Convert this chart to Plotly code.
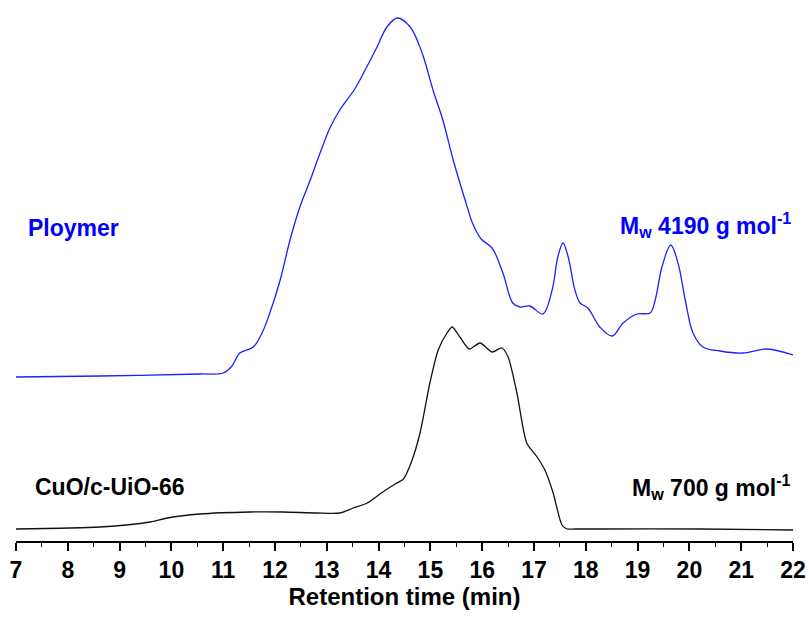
import plotly.graph_objects as go

# Retention time (min) and detector response (arbitrary units) for each trace
polymer_time = [7.00, 8.62, 10.55, 11.00, 11.17, 11.32, 11.58, 11.75, 11.90, 12.10,
                12.29, 12.48, 12.68, 12.87, 13.06, 13.25, 13.54, 13.74, 13.97, 14.16,
                14.36, 14.61, 14.84, 15.05, 15.24, 15.44, 15.67, 15.82, 15.98, 16.19,
                16.40, 16.59, 16.73, 16.92, 17.17, 17.35, 17.46, 17.56, 17.66, 17.79,
                17.89, 18.04, 18.27, 18.51, 18.72, 18.99, 19.24, 19.34, 19.47, 19.64,
                19.78, 19.92, 20.07, 20.26, 20.59, 21.03, 21.50, 22.00]
polymer_signal = [164, 165, 167, 168, 175, 188, 194, 208, 228, 261,
                  301, 334, 361, 388, 413, 431, 452, 471, 494, 514,
                  523, 514, 488, 451, 421, 381, 341, 317, 302, 293,
                  268, 238, 234, 235, 227, 251, 284, 298, 284, 251,
                  238, 233, 214, 205, 218, 227, 228, 241, 274, 296,
                  278, 241, 208, 194, 190, 188, 192, 186]

cuo_time = [7.00, 8.62, 9.59, 9.92, 10.55, 11.52, 12.15, 12.81, 13.25,
            13.51, 13.78, 14.08, 14.32, 14.48, 14.64, 14.80, 14.99, 15.15, 15.32,
            15.42, 15.57, 15.75, 15.96, 16.19, 16.38, 16.50, 16.67, 16.86, 17.06,
            17.21, 17.37, 17.54, 17.64, 17.80, 18.27, 20.20, 22.00]
cuo_signal = [12, 14, 19, 23, 27, 29, 29, 28, 28,
              33, 38, 49, 57, 62, 80, 108, 158, 191, 208,
              214, 204, 192, 198, 189, 193, 184, 148, 98, 84,
              71, 48, 16, 12, 12, 12, 12, 11]

tick_values = list(range(7, 23))
tick_labels = [str(v) for v in tick_values]

BLUE = "#0000ff"
FONT = "Liberation Sans"

fig = go.Figure()
fig.add_trace(go.Scatter(x=polymer_time, y=polymer_signal, mode="lines",
                         line=dict(color="#1f1fff", width=1.3, shape="spline", smoothing=1.0),
                         showlegend=False))
fig.add_trace(go.Scatter(x=cuo_time, y=cuo_signal, mode="lines",
                         line=dict(color="#111111", width=1.3, shape="spline", smoothing=0.7),
                         showlegend=False))

label_font = dict(family=FONT, size=23)
fig.add_annotation(x=7.19, y=313, xref="x", yref="y", text="<b>Ploymer</b>",
                   showarrow=False, xanchor="left", yanchor="middle",
                   font=dict(color=BLUE, **label_font))
fig.add_annotation(x=22, y=316, xref="x", yref="y",
                   text="<b>M<sub>w</sub> 4190 g mol<sup>-1</sup></b>",
                   showarrow=False, xanchor="right", yanchor="middle",
                   font=dict(color=BLUE, **label_font))
fig.add_annotation(x=7.33, y=54, xref="x", yref="y", text="<b>CuO/c-UiO-66</b>",
                   showarrow=False, xanchor="left", yanchor="middle",
                   font=dict(color="black", **label_font))
fig.add_annotation(x=22, y=54, xref="x", yref="y",
                   text="<b>M<sub>w</sub> 700 g mol<sup>-1</sup></b>",
                   showarrow=False, xanchor="right", yanchor="middle",
                   font=dict(color="black", **label_font))

fig.update_xaxes(range=[7, 22], showline=True, linecolor="black", linewidth=1.5,
                 ticks="outside", ticklen=8, tickwidth=1.5, tickcolor="black",
                 tickvals=tick_values, ticktext=[f"<b>{t}</b>" for t in tick_labels],
                 tickfont=dict(family=FONT, size=23, color="black"),
                 minor=dict(dtick=0.5, tick0=7, ticks="outside", ticklen=4,
                            tickwidth=1.2, tickcolor="black"),
                 showgrid=False, zeroline=False,
                 title=dict(text="<b>Retention time (min)</b>", standoff=6,
                            font=dict(family=FONT, size=24, color="black")))
fig.update_yaxes(range=[0, 541], visible=False, showgrid=False, zeroline=False)

fig.update_layout(width=811, height=617, margin=dict(l=16, r=18, t=0, b=76),
                  paper_bgcolor="white", plot_bgcolor="white")

fig.write_html("out.html")
